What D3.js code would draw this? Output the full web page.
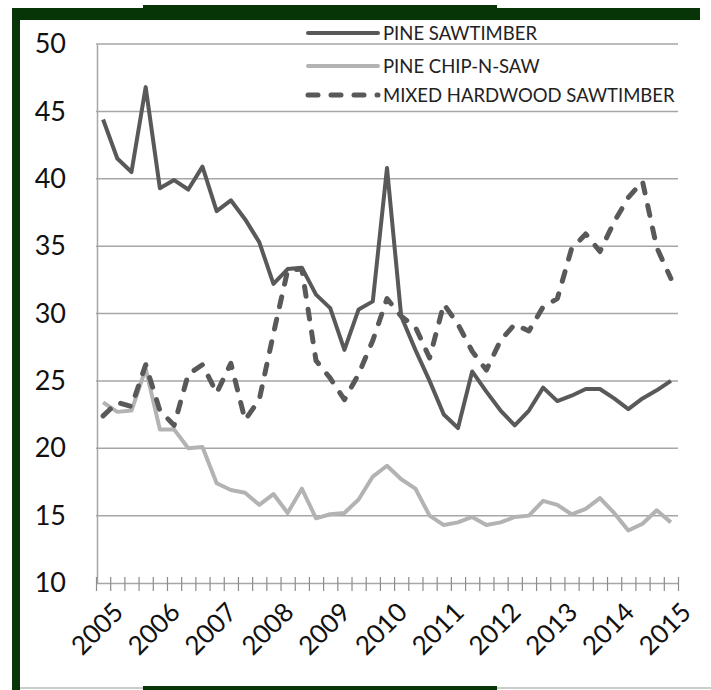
<!DOCTYPE html>
<html>
<head>
<meta charset="utf-8">
<script src="https://cdn.jsdelivr.net/npm/d3@7"></script>
<style>
  body { margin: 0; background: #fff; }
  svg { display: block; }
</style>
</head>
<body>
<svg id="chart" width="711" height="690"></svg>
<script>
// quarterly prices, 2005 Q1 .. 2015 Q1
const yearLabels = ['2005','2006','2007','2008','2009','2010','2011','2012','2013','2014','2015'];
const seriesNames = ['PINE SAWTIMBER', 'PINE CHIP-N-SAW', 'MIXED HARDWOOD SAWTIMBER'];

const pineSaw = [44.4, 41.5, 40.5, 46.8, 39.3, 39.9, 39.2, 40.9, 37.6, 38.4,
  37.0, 35.3, 32.2, 33.3, 33.4, 31.4, 30.4, 27.3, 30.3, 30.9,
  40.8, 29.8, 27.3, 25.0, 22.5, 21.5, 25.7, 24.2, 22.8, 21.7,
  22.8, 24.5, 23.5, 23.9, 24.4, 24.4, 23.7, 22.9, 23.7, 24.3, 25.0];

const chipNSaw = [23.4, 22.7, 22.8, 25.9, 21.4, 21.4, 20.0, 20.1, 17.4, 16.9,
  16.7, 15.8, 16.6, 15.2, 17.0, 14.8, 15.1, 15.2, 16.2, 17.9,
  18.7, 17.7, 17.0, 15.0, 14.3, 14.5, 14.9, 14.3, 14.5, 14.9,
  15.0, 16.1, 15.8, 15.1, 15.5, 16.3, 15.2, 13.9, 14.4, 15.4, 14.5];

const hardwood = [22.4, 23.4, 23.1, 26.2, 22.8, 21.7, 25.5, 26.2, 24.1, 26.3,
  22.1, 23.6, 28.5, 33.2, 33.3, 26.5, 25.2, 23.6, 25.5, 28.0,
  31.1, 29.8, 29.0, 26.7, 30.7, 29.2, 27.2, 25.8, 28.0, 29.2,
  28.7, 30.5, 31.1, 34.8, 35.9, 34.6, 36.8, 38.6, 39.8, 34.9, 32.6];

const svg = d3.select('#chart');
const font = 'Lato, "Open Sans", sans-serif';

// frame
const green = '#073507';
svg.append('rect').attr('x', 12).attr('y', 8).attr('width', 688).attr('height', 12).attr('fill', green);
svg.append('rect').attr('x', 143).attr('y', 5).attr('width', 354).attr('height', 4).attr('fill', green);
svg.append('rect').attr('x', 12).attr('y', 8).attr('width', 8).attr('height', 682).attr('fill', green);
svg.append('rect').attr('x', 20).attr('y', 687).attr('width', 691).attr('height', 2).attr('fill', '#c8cfc8');
svg.append('rect').attr('x', 143).attr('y', 686).attr('width', 354).attr('height', 4).attr('fill', green);

const n = pineSaw.length;
const x = d3.scaleBand().domain(d3.range(n)).range([96, 678]);
const cx = i => x(i) + x.bandwidth() / 2;
const xEdge = d3.scaleLinear().domain([0, n]).range([96, 678]);
const y = d3.scaleLinear().domain([10, 50]).range([583, 44]);

// gridlines
svg.append('g')
  .selectAll('line')
  .data(d3.range(15, 51, 5))
  .join('line')
  .attr('x1', 96).attr('x2', 678)
  .attr('y1', d => y(d)).attr('y2', d => y(d))
  .attr('stroke', '#a6a6a6').attr('stroke-width', 1.5);

// y axis
const yAxis = svg.append('g')
  .attr('transform', 'translate(97,0)')
  .call(d3.axisLeft(y).tickValues(d3.range(10, 51, 5)).tickSize(0).tickPadding(31));
yAxis.select('.domain').attr('stroke', '#a6a6a6').attr('stroke-width', 1.5);
yAxis.selectAll('text').attr('font-family', font).attr('font-size', 27).attr('fill', '#111');

// x axis, cross ticks at category edges
const xAxis = svg.append('g')
  .attr('transform', 'translate(0,' + y(10) + ')')
  .call(d3.axisBottom(xEdge).tickValues(d3.range(n + 1)).tickFormat('').tickSize(0));
xAxis.select('.domain').attr('stroke', '#a6a6a6').attr('stroke-width', 1.5);
xAxis.selectAll('.tick line').attr('y1', -6).attr('y2', 8).attr('stroke', '#8c8c8c').attr('stroke-width', 1.2);

svg.append('g')
  .selectAll('text')
  .data(yearLabels)
  .join('text')
  .attr('transform', (d, i) => 'translate(' + (cx(i * 4) + 9) + ',' + (y(10) + 18) + ') rotate(-45)')
  .attr('text-anchor', 'end')
  .attr('dy', '0.7em')
  .attr('font-family', font)
  .attr('font-size', 26)
  .attr('fill', '#111')
  .text(d => d);

// lines
const line = d3.line().x((d, i) => cx(i)).y(d => y(d));
const styles = [
  { data: pineSaw, color: '#595959', width: 4, dash: null },
  { data: chipNSaw, color: '#b3b3b3', width: 4, dash: null },
  { data: hardwood, color: '#595959', width: 5, dash: '10,13' }
];

styles.forEach(s => {
  svg.append('path')
    .attr('d', line(s.data))
    .attr('fill', 'none')
    .attr('stroke', s.color)
    .attr('stroke-width', s.width)
    .attr('stroke-linejoin', 'round')
    .attr('stroke-linecap', s.dash ? 'round' : 'butt')
    .attr('stroke-dasharray', s.dash);
});

// legend
const legend = svg.append('g');
const legendY = [33, 66, 95];
styles.forEach((s, i) => {
  legend.append('line')
    .attr('x1', 308).attr('x2', 378)
    .attr('y1', legendY[i]).attr('y2', legendY[i])
    .attr('stroke', s.color)
    .attr('stroke-width', s.width)
    .attr('stroke-linecap', 'round')
    .attr('stroke-dasharray', s.dash);
  legend.append('text')
    .attr('x', 383).attr('y', legendY[i])
    .attr('dy', '0.36em')
    .attr('font-family', font)
    .attr('font-size', 18.5)
    .attr('fill', '#222')
    .text(seriesNames[i]);
});
</script>
</body>
</html>
